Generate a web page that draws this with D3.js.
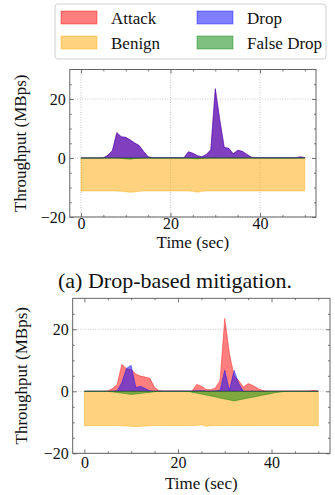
<!DOCTYPE html>
<html>
<head>
<meta charset="utf-8">
<script src="https://cdn.jsdelivr.net/npm/d3@7"></script>
<style>
  body { margin: 0; background: #fff; }
  svg { display: block; font-family: "Liberation Serif", serif; }
</style>
</head>
<body>
<svg id="chart"></svg>
<script>
// time axis (seconds)
var time = [0,1,2,3,4,5,6,7,8,9,10,11,12,13,14,15,16,17,18,19,20,21,22,23,24,25,
            26,27,28,29,30,31,32,33,34,35,36,37,38,39,40,41,42,43,44,45,46,47,48,49,50];

// (a) drop-based mitigation
var topAttack = [0,0,0,0,0,0.1,0.9,2.5,8.6,7.2,7.0,6.1,5.1,4.2,2.2,0.4,0.1,0.1,0.1,0.1,0.1,0.1,0.1,0.1,
                 2.1,1.6,0.8,0.4,1.2,2.8,23.5,13,3.6,3.3,1.4,2.6,2.3,1.3,0.3,
                 0.1,0.1,0.1,0.1,0.1,0.1,0.1,0.1,0.1,0.1,0.4,0.1];
var topDrop   = [0,0,0,0,0,0.1,0.9,2.5,8.6,7.2,7.0,6.1,5.1,4.2,2.2,0.4,0.1,0.1,0.1,0.1,0.1,0.1,0.1,0.1,
                 2.1,1.6,0.8,0.4,1.2,2.8,23.5,13,3.6,3.3,1.4,2.6,2.3,1.3,0.3,
                 0.1,0.1,0.1,0.1,0.1,0.1,0.1,0.1,0.1,0.1,0.4,0.1];
var topBenign = [-11.2,-11.2,-11.2,-11.2,-11.2,-11.2,-11.2,-11.2,-11.2,-11.3,-11.4,-11.6,-11.5,-11.3,-11.2,-11.2,
                 -11.2,-11.2,-11.2,-11.2,-11.2,-11.2,-11.2,-11.2,-11.2,-11.3,-11.6,-11.3,-11.2,-11.2,
                 -11.2,-11.2,-11.2,-11.2,-11.2,-11.2,-11.2,-11.2,-11.2,-11.2,-11.2,-11.2,-11.2,-11.2,
                 -11.2,-11.2,-11.2,-11.2,-11.2,-11.2,-11.2];
var topFalse  = [0,0,0,0,0,0,0,0,0,-0.1,-0.3,-0.4,-0.2,-0.1,0,0,0,0,0,0,0,0,0,0,0,-0.2,-0.3,-0.1,
                 0,0,0,0,0,0,0,0,0,0,0,0,0,0,0,0,0,0,0,0,0,0,0];

// second panel
var botAttack = [0,0,0,0,0,0.1,0.9,2.2,8.7,7.3,7.0,5.6,4.9,4.6,4.2,1.2,0.2,0.1,0.1,0.1,0.1,0.1,0.1,0.1,
                 2.2,1.7,0.6,0.5,1.1,3.6,23.5,12.2,5.0,3.4,1.4,2.5,1.9,1.0,0.3,
                 0.1,0.1,0.1,0.1,0.1,0.1,0.1,0.1,0.1,0.1,0.3,0.1];
var botDrop   = [0,0,0,0,0,0,0,0.2,2.8,7.4,8.4,1.2,1.6,0.9,0.2,0,0.1,0.1,0.1,0.1,0.1,0.1,0.1,0.1,
                 0.2,0.2,0.1,0.1,0.1,0.3,6.8,0.3,6.8,2.5,0,
                 0,0,0,0,0,0,0,0,0,0,0,0,0,0,0,0];
var botBenign = [-11.1,-11.1,-11.1,-11.1,-11.1,-11.1,-11.1,-11.1,-11.1,-11.2,-11.3,-11.4,-11.3,-11.2,-11.1,-11.1,
                 -11.1,-11.1,-11.1,-11.1,-11.1,-11.1,-11.1,-11.1,-11.0,-10.8,-11.3,-11.1,-11.1,-11.1,
                 -11.1,-11.1,-11.1,-11.1,-11.1,-11.1,-11.1,-11.1,-11.1,-11.1,-11.1,-11.1,-11.1,-11.1,
                 -11.1,-11.1,-11.1,-11.1,-11.1,-11.1,-11.1];
var botFalse  = [0,0,0,0,0,0,-0.2,-0.4,-0.6,-0.8,-1.0,-0.85,-0.7,-0.5,-0.35,-0.15,0,0,0,0,0,0,0,
                 -0.3,-0.6,-0.9,-1.2,-1.5,-1.8,-2.2,-2.5,-2.8,-3.1,-2.8,-2.5,-2.2,-1.9,-1.6,-1.3,-1.0,
                 -0.7,-0.4,-0.2,-0.05,0,0,0,0,0,0,0];

var seriesNames = ["Attack", "Drop", "Benign", "False Drop"];
var xMajor = [0, 20, 40];
var xMinor = [5, 10, 15, 25, 30, 35, 45, 50];
var yMajor = [-20, 0, 20];
var yMinor = [-15, -10, -5, 5, 10, 15, 25];

var colors = {"Attack": "#ff0000", "Drop": "#0000ff", "Benign": "#ffa500", "False Drop": "#008000"};
var serif = "'Liberation Serif', 'Times New Roman', serif";

var svg = d3.select("#chart").attr("width", 335).attr("height", 495);

function drawPanel(p) {
    var x = d3.scaleLinear().domain([-2.5, 52.5]).range([p.left, p.right]);
    var y = d3.scaleLinear().domain([-20, 30]).range([p.bottom, p.top]);
    var g = svg.append("g");

    // dotted grid
    var grid = g.append("g").attr("stroke", "#b0b0b0").attr("stroke-width", 0.7)
        .attr("stroke-dasharray", "1,1.5");
    grid.selectAll(".gy").data(yMajor).enter().append("line")
        .attr("x1", p.left).attr("x2", p.right)
        .attr("y1", function(d) { return y(d); }).attr("y2", function(d) { return y(d); });
    if (p.vgrid) {
        grid.selectAll(".gx").data(xMajor).enter().append("line")
            .attr("y1", p.top).attr("y2", p.bottom)
            .attr("x1", function(d) { return x(d); }).attr("x2", function(d) { return x(d); });
    }

    // filled areas, drawn in the order matplotlib stacked them
    var order = [["Attack", p.attack], ["Benign", p.benign], ["Drop", p.drop], ["False Drop", p.falseDrop]];
    order.forEach(function(s) {
        var area = d3.area()
            .x(function(d, i) { return x(time[i]); })
            .y0(y(0))
            .y1(function(d) { return y(d); });
        g.append("path")
            .datum(s[1])
            .attr("d", area)
            .attr("fill", colors[s[0]])
            .attr("fill-opacity", 0.5)
            .attr("stroke", colors[s[0]])
            .attr("stroke-opacity", 0.5)
            .attr("stroke-width", 0.8)
            .attr("stroke-linejoin", "round");
    });

    // axes with inward ticks on all four sides
    function styleAxis(a) {
        a.attr("font-family", serif).attr("font-size", 16);
        a.select(".domain").remove();
        a.selectAll(".tick line").attr("stroke", "#555").attr("stroke-width", 0.8);
        a.selectAll("text").attr("font-family", serif).attr("font-size", 16).attr("fill", "#111");
    }
    g.append("g").attr("transform", "translate(0," + p.bottom + ")")
        .call(d3.axisBottom(x).tickValues(xMajor).tickSize(-4).tickPadding(p.xpad)).call(styleAxis);
    g.append("g").attr("transform", "translate(0," + p.bottom + ")")
        .call(d3.axisBottom(x).tickValues(xMinor).tickSize(-2).tickFormat("")).call(styleAxis);
    g.append("g").attr("transform", "translate(0," + p.top + ")")
        .call(d3.axisTop(x).tickValues(xMajor).tickSize(-4).tickFormat("")).call(styleAxis);
    g.append("g").attr("transform", "translate(0," + p.top + ")")
        .call(d3.axisTop(x).tickValues(xMinor).tickSize(-2).tickFormat("")).call(styleAxis);
    g.append("g").attr("transform", "translate(" + p.left + ",0)")
        .call(d3.axisLeft(y).tickValues(yMajor).tickSize(-4).tickPadding(4)).call(styleAxis);
    g.append("g").attr("transform", "translate(" + p.left + ",0)")
        .call(d3.axisLeft(y).tickValues(yMinor).tickSize(-2).tickFormat("")).call(styleAxis);
    g.append("g").attr("transform", "translate(" + p.right + ",0)")
        .call(d3.axisRight(y).tickValues(yMajor).tickSize(-4).tickFormat("")).call(styleAxis);
    g.append("g").attr("transform", "translate(" + p.right + ",0)")
        .call(d3.axisRight(y).tickValues(yMinor).tickSize(-2).tickFormat("")).call(styleAxis);

    g.append("rect")
        .attr("x", p.left).attr("y", p.top)
        .attr("width", p.right - p.left).attr("height", p.bottom - p.top)
        .attr("fill", "none").attr("stroke", "#555").attr("stroke-width", 0.9);

    g.append("text")
        .attr("x", (p.left + p.right) / 2).attr("y", p.bottom + p.xlabDy)
        .attr("text-anchor", "middle").attr("font-size", 17).attr("fill", "#111")
        .text("Time (sec)");
    g.append("text")
        .attr("transform", "translate(" + p.ylabX + "," + ((p.top + p.bottom) / 2) + ") rotate(-90)")
        .attr("text-anchor", "middle").attr("font-size", 17).attr("fill", "#111")
        .text("Throughput (MBps)");
}

drawPanel({left: 69.8, right: 316, top: 69.5, bottom: 217, vgrid: true, ylabX: 26, xpad: 1, xlabDy: 30.5,
           attack: topAttack, drop: topDrop, benign: topBenign, falseDrop: topFalse});
drawPanel({left: 72.7, right: 330, top: 298.3, bottom: 453.3, vgrid: false, ylabX: 27, xpad: 3.5, xlabDy: 36,
           attack: botAttack, drop: botDrop, benign: botBenign, falseDrop: botFalse});

svg.append("text")
    .attr("x", 175).attr("y", 288)
    .attr("text-anchor", "middle").attr("font-size", 22).attr("fill", "#111")
    .text("(a) Drop-based mitigation.");

// legend
var legend = svg.append("g");
legend.append("rect")
    .attr("x", 55).attr("y", 4).attr("width", 271).attr("height", 55)
    .attr("rx", 3).attr("fill", "#fff").attr("stroke", "#d0d0d0").attr("stroke-width", 1);
var legendPos = [[61, 11], [197, 11], [61, 36], [197, 36]];
var item = legend.selectAll(".item").data(seriesNames).enter().append("g")
    .attr("transform", function(d, i) { return "translate(" + legendPos[i][0] + "," + legendPos[i][1] + ")"; });
item.append("rect")
    .attr("width", 36).attr("height", 13)
    .attr("fill", function(d) { return colors[d]; }).attr("fill-opacity", 0.5)
    .attr("stroke", function(d) { return colors[d]; }).attr("stroke-opacity", 0.5).attr("stroke-width", 0.8);
item.append("text")
    .attr("x", 50).attr("y", 12.5)
    .attr("font-size", 17).attr("fill", "#111")
    .text(function(d) { return d; });
</script>
</body>
</html>
